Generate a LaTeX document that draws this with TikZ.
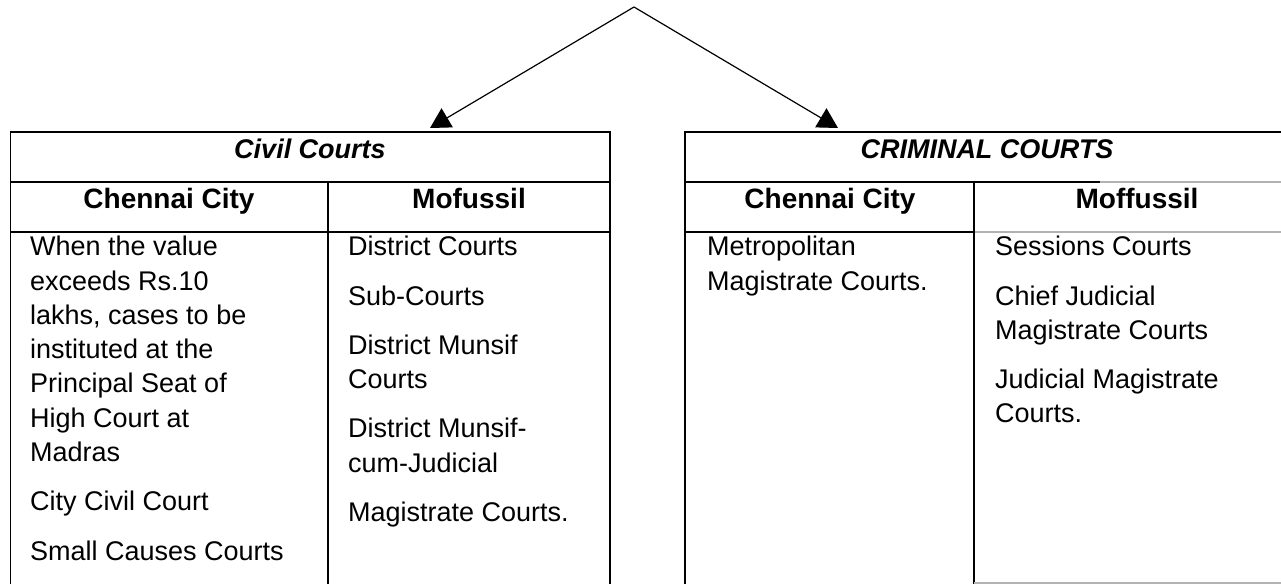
\documentclass[tikz,border=0pt]{standalone}
\usepackage{fontspec}
\setmainfont{Liberation Sans}
\usetikzlibrary{arrows.meta}
\begin{document}
\begin{tikzpicture}[x=1pt,y=-1pt]
	\tikzset{cellnode/.style={font=\fontsize{27}{34.3}\selectfont,inner sep=0pt,anchor=north west,align=left},
		headnode/.style={font=\fontsize{28}{34.3}\selectfont\bfseries,inner sep=0pt,anchor=base},
		titlenode/.style={font=\fontsize{27}{34.3}\selectfont\bfseries\itshape,inner sep=0pt,anchor=base},
		greyline/.style={draw=black!30}}
	\useasboundingbox (0,0) rectangle (1281,584);
	%Begin arrows
	\coordinate (top) at (634,7);
	\coordinate (civiltip) at (430,128);
	\coordinate (crimtip) at (838,128);
	\draw[line width=1.2pt,-{Triangle[width=22pt,length=20pt]}] (top) -- (civiltip);
	\draw[line width=1.2pt,-{Triangle[width=22pt,length=20pt]}] (top) -- (crimtip);
	%Civil table
	\draw[line width=1.2pt] (10.5,584) -- (10.5,132) -- (610,132) -- (610,584);
	\draw[line width=1.2pt] (10.5,182) -- (610,182);
	\draw[line width=1.2pt] (10.5,232) -- (610,232);
	\draw[line width=1.2pt] (328,182) -- (328,584);
	%Criminal table
	\draw[line width=1.2pt] (685,584) -- (685,132) -- (1281,132);
	\draw[line width=1.2pt] (685,182) -- (1100,182);
	\draw[line width=1.2pt,greyline] (1100,182) -- (1281,182);
	\draw[line width=1.2pt] (685,232) -- (974,232);
	\draw[line width=1.2pt,greyline] (974,232) -- (1281,232);
	\draw[line width=1.2pt] (974,182) -- (974,584);
	\draw[line width=1.2pt,greyline] (974,583) -- (1281,583);
	%Titles and headers
	\node[titlenode] (civil) at (310,158) {Civil Courts};
	\node[titlenode] (criminal) at (987,158) {CRIMINAL COURTS};
	\node[headnode] (civcity) at (169,208) {Chennai City};
	\node[headnode] (civmof) at (469,208) {Mofussil};
	\node[headnode] (crimcity) at (830,208) {Chennai City};
	\node[headnode] (crimmof) at (1137,208) {Moffussil};
	%Cells
	\node[cellnode] (civcitytext) at (30,236) {When the value\\exceeds Rs.10\\lakhs, cases  to be\\instituted at the\\Principal Seat of\\High Court at\\Madras\\[15pt]City Civil Court\\[15pt]Small Causes Courts};
	\node[cellnode] (civmoftext) at (348,236) {District Courts\\[15pt]Sub-Courts\\[15pt]District Munsif\\Courts\\[15pt]District Munsif-\\cum-Judicial\\[15pt]Magistrate Courts.};
	\node[cellnode] (crimcitytext) at (707,236) {Metropolitan\\Magistrate Courts.};
	\node[cellnode] (crimmoftext) at (995,236) {Sessions Courts\\[15pt]Chief Judicial\\Magistrate Courts\\[15pt]Judicial Magistrate\\Courts.};
\end{tikzpicture}
\end{document}
